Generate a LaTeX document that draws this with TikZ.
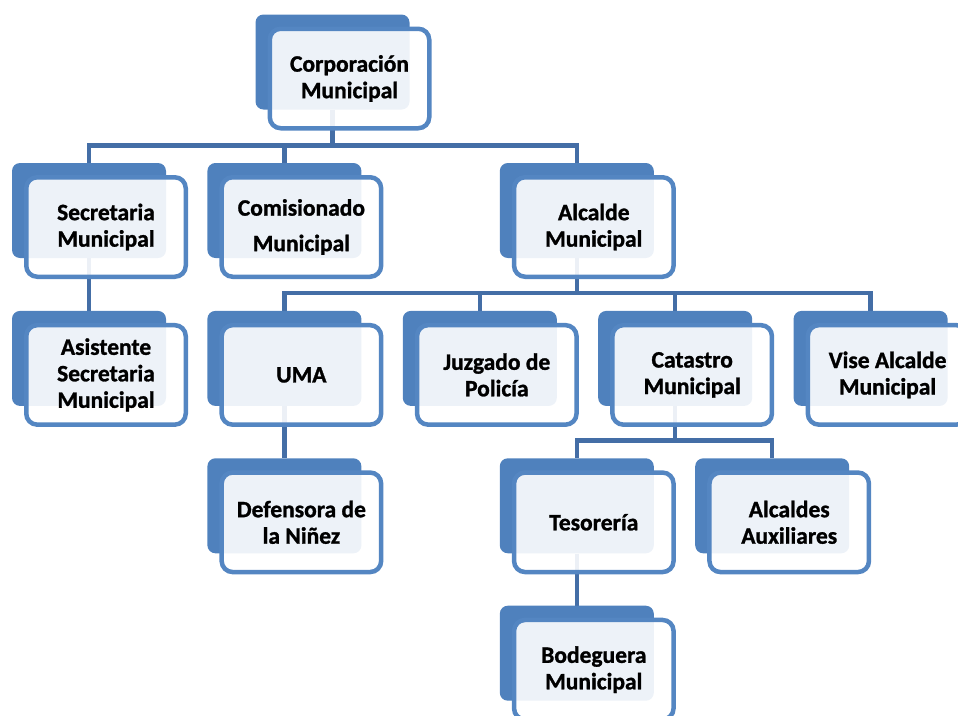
\documentclass[tikz,border=0pt]{standalone}
\usepackage{fontspec}
\setmainfont{Carlito}[BoldFeatures={FakeBold=1.2}]
\usetikzlibrary{positioning,backgrounds}
\definecolor{boxback}{RGB}{79,129,189}
\definecolor{boxline}{RGB}{84,134,194}
\definecolor{linkblue}{RGB}{68,110,166}

\begin{document}
\begin{tikzpicture}[
  x=1pt,y=-1pt,
  back/.style={rectangle,rounded corners=8pt,fill=boxback,minimum width=154pt,
               minimum height=95pt,inner sep=0pt},
  front/.style={rectangle,rounded corners=11pt,draw=boxline,line width=4.5pt,
                fill=white,fill opacity=0.9,text opacity=1,
                minimum width=159.5pt,minimum height=99.5pt,inner sep=0pt,
                xshift=17pt,yshift=-16.5pt,align=center,
                font=\bfseries\fontsize{23.5}{26.5}\selectfont},
  link/.style={draw=linkblue,line width=4.5pt}
]
\useasboundingbox (0,0) rectangle (958,715);

\node[back] (corp) at (332.5,62) {};
\node[front] (corpf) at (corp) {Corporación\\Municipal};

% second row
\node[back] (secre) at (89,210.5) {};
\node[front] (secref) at (secre) {Secretaria\\Municipal};
\node[back,right=41pt of secre] (comis) {};
\node[front] (comisf) at (comis) {Comisionado\\[9pt]Municipal};
\node[back,right=138pt of comis] (alc) {};
\node[front] (alcf) at (alc) {Alcalde\\Municipal};

% third row
\node[back,below=52.5pt of secre] (asis) {};
\node[front] (asisf) at (asis) {Asistente\\Secretaria\\Municipal};
\node[back,below=52.5pt of comis] (uma) {};
\node[front] (umaf) at (uma) {UMA};
\node[back,right=41pt of uma] (juz) {};
\node[front] (juzf) at (juz) {Juzgado de\\Policía};
\node[back,right=41pt of juz] (cat) {};
\node[front] (catf) at (cat) {Catastro\\Municipal};
\node[back,right=41pt of cat] (vise) {};
\node[front] (visef) at (vise) {Vise Alcalde\\Municipal};

% fourth and fifth rows
\node[back,below=52pt of uma] (def) {};
\node[front] (deff) at (def) {Defensora de\\la Niñez};
\node[back] (tes) at (alc |- def) {};
\node[front] (tesf) at (tes) {Tesorería};
\node[back,right=41pt of tes] (aux) {};
\node[front] (auxf) at (aux) {Alcaldes\\Auxiliares};
\node[back,below=52pt of tes] (bod) {};
\node[front] (bodf) at (bod) {Bodeguera\\Municipal};

\begin{scope}[on background layer]
\draw[link] (corp.south) |- ([yshift=17.5pt]secre.north) -- (secre.north);
\draw[link] (corp.south) |- ([yshift=17.5pt]comis.north) -- (comis.north);
\draw[link] (corp.south) |- ([yshift=17.5pt]alc.north) -- (alc.north);
\draw[link] (secre.south) -- (asis.north);
\draw[link] (alc.south) |- ([yshift=17.5pt]uma.north) -- (uma.north);
\draw[link] (alc.south) |- ([yshift=17.5pt]juz.north) -- (juz.north);
\draw[link] (alc.south) |- ([yshift=17.5pt]cat.north) -- (cat.north);
\draw[link] (alc.south) |- ([yshift=17.5pt]vise.north) -- (vise.north);
\draw[link] (uma.south) -- (def.north);
\draw[link] (cat.south) |- ([yshift=17.5pt]tes.north) -- (tes.north);
\draw[link] (cat.south) |- ([yshift=17.5pt]aux.north) -- (aux.north);
\draw[link] (tes.south) -- (bod.north);
\end{scope}
\end{tikzpicture}
\end{document}
